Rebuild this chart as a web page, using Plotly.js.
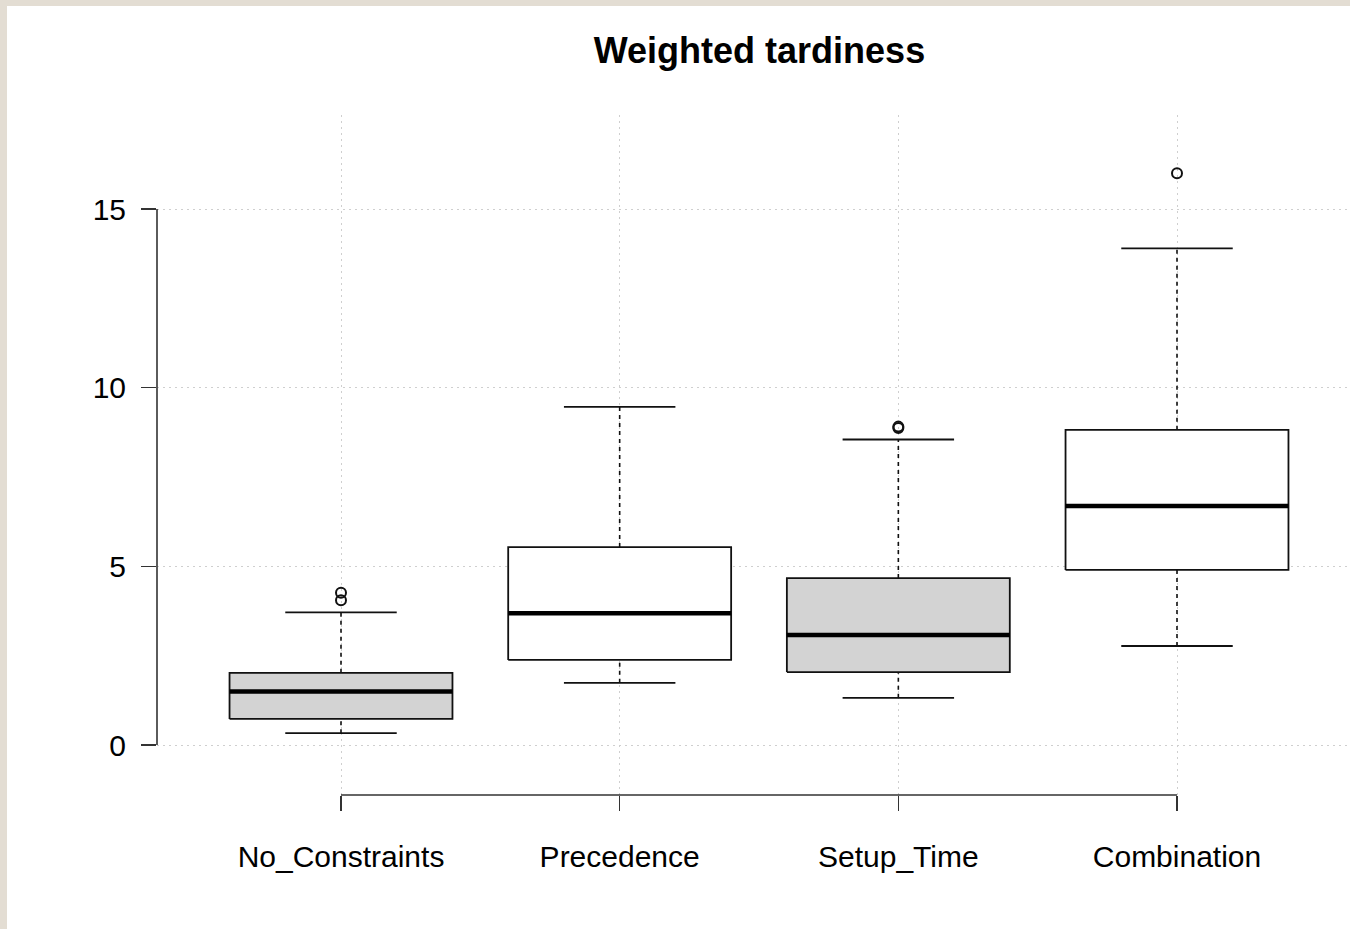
<!DOCTYPE html>
<html>
<head>
<meta charset="utf-8">
<script src="https://cdn.plot.ly/plotly-3.0.1.min.js"></script>
<style>
  html, body { margin: 0; padding: 0; background: #e3ddd3; width: 1350px; height: 929px; overflow: hidden; }
  #chart { position: absolute; left: 7px; top: 6px; width: 1343px; height: 923px; background: #ffffff; }
</style>
</head>
<body>
<div id="chart"></div>
<script>
// ---- data ----
const categories   = ['No_Constraints', 'Precedence', 'Setup_Time', 'Combination'];
const lowerWhisker = [0.33, 1.74, 1.32, 2.77];
const q1           = [0.73, 2.38, 2.04, 4.90];
const median       = [1.50, 3.69, 3.08, 6.69];
const q3           = [2.02, 5.54, 4.67, 8.82];
const upperWhisker = [3.71, 9.46, 8.55, 13.90];
const outliers     = [[4.05, 4.26], [], [8.87, 8.91], [16.0]];
const yTicks       = [0, 5, 10, 15];
const titleText    = 'Weighted tardiness';

// ---- styles ----
const boxFills = ['#d3d3d3', '#ffffff', '#d3d3d3', '#ffffff'];
const FONT = 'Liberation Sans, Arial, Helvetica, sans-serif';
const INK = '#111111';
const HALF_BOX = 0.4, HALF_CAP = 0.2;

const traces = [];
categories.forEach((c, i) => {
  // whiskers (dashed)
  traces.push({
    type: 'scatter', mode: 'lines', hoverinfo: 'skip', showlegend: false,
    x: [i, i, null, i, i],
    y: [lowerWhisker[i], q1[i], null, q3[i], upperWhisker[i]],
    line: { color: INK, width: 1.6, dash: '4px,4px' }
  });
  // caps
  traces.push({
    type: 'scatter', mode: 'lines', hoverinfo: 'skip', showlegend: false,
    x: [i - HALF_CAP, i + HALF_CAP, null, i - HALF_CAP, i + HALF_CAP],
    y: [lowerWhisker[i], lowerWhisker[i], null, upperWhisker[i], upperWhisker[i]],
    line: { color: INK, width: 1.8 }
  });
  // box
  traces.push({
    type: 'scatter', mode: 'lines', hoverinfo: 'skip', showlegend: false,
    x: [i - HALF_BOX, i + HALF_BOX, i + HALF_BOX, i - HALF_BOX, i - HALF_BOX],
    y: [q1[i], q1[i], q3[i], q3[i], q1[i]],
    fill: 'toself', fillcolor: boxFills[i],
    line: { color: INK, width: 1.8 }
  });
  // median
  traces.push({
    type: 'scatter', mode: 'lines', hoverinfo: 'skip', showlegend: false,
    x: [i - HALF_BOX, i + HALF_BOX],
    y: [median[i], median[i]],
    line: { color: '#000000', width: 4.5 }
  });
  // outliers
  if (outliers[i].length) {
    traces.push({
      type: 'scatter', mode: 'markers', hoverinfo: 'skip', showlegend: false,
      x: outliers[i].map(() => i),
      y: outliers[i],
      marker: { symbol: 'circle-open', size: 10, color: INK, line: { width: 2, color: INK } }
    });
  }
});

const layout = {
  width: 1343, height: 923,
  margin: { l: 150, r: 0, t: 109, b: 134, pad: 0 },
  paper_bgcolor: '#ffffff', plot_bgcolor: '#ffffff',
  font: { family: FONT, size: 30, color: '#000000' },
  showlegend: false,
  title: {
    text: '<b>' + titleText + '</b>',
    font: { family: FONT, size: 36, color: '#000000' },
    xref: 'container', x: 0.5603, xanchor: 'center',
    yref: 'container', y: 0.9523, yanchor: 'middle'
  },
  xaxis: {
    range: [-0.6603, 3.6208],
    tickmode: 'array', tickvals: categories.map((c, i) => i), ticktext: categories,
    ticks: 'outside', ticklen: 15, tickwidth: 1.6, tickcolor: '#333333',
    showline: false, zeroline: false,
    showgrid: true, gridcolor: '#cfcfcf', gridwidth: 1, griddash: '2px,4px',
    tickfont: { family: FONT, size: 30, color: '#000000' },
    ticklabelstandoff: 20,
    fixedrange: true
  },
  yaxis: {
    range: [-1.3993, 17.6306],
    tickmode: 'array', tickvals: yTicks, ticktext: yTicks.map(String),
    ticks: 'outside', ticklen: 15, tickwidth: 1.6, tickcolor: '#333333',
    showline: false, zeroline: false,
    showgrid: true, gridcolor: '#cfcfcf', gridwidth: 1, griddash: '2px,4px',
    tickfont: { family: FONT, size: 30, color: '#000000' },
    ticklabelstandoff: 9,
    fixedrange: true
  },
  shapes: [
    { type: 'line', xref: 'paper', yref: 'y', x0: 0, x1: 0, y0: yTicks[0], y1: yTicks[yTicks.length - 1],
      line: { color: '#333333', width: 1.6 } },
    { type: 'line', xref: 'x', yref: 'paper', x0: 0, x1: categories.length - 1, y0: 0, y1: 0,
      line: { color: '#333333', width: 1.6 } }
  ]
};

Plotly.newPlot('chart', traces, layout, { staticPlot: true, displayModeBar: false });
</script>
</body>
</html>
